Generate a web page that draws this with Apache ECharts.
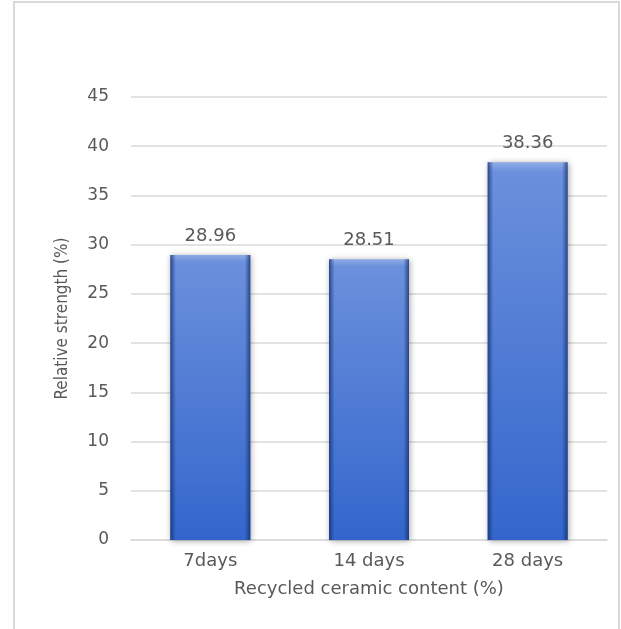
<!DOCTYPE html>
<html>
<head>
<meta charset="utf-8">
<script src="https://cdn.jsdelivr.net/npm/echarts@6/dist/echarts.min.js"></script>
<style>
  html, body { margin: 0; padding: 0; background: #ffffff; }
  #chart { width: 621px; height: 629px; }
</style>
</head>
<body>
<div id="chart"></div>
<script>
// Curing ages and relative strength values
const categories = ['7days', '14 days', '28 days'];
const strengthValues = [28.96, 28.51, 38.36];
const yTicks = { min: 0, max: 45, interval: 5 };

const textGray = '#595959';
const gridGray = '#d9d9d9';

const chart = echarts.init(document.getElementById('chart'), null, { renderer: 'canvas' });

chart.setOption({
  backgroundColor: '#ffffff',
  animation: false,
  graphic: [{
    type: 'rect',
    shape: { x: 14, y: 2, width: 605, height: 640 },
    style: { fill: 'none', stroke: '#d9d9d9', lineWidth: 2 },
    silent: true,
    z: -1
  }],
  grid: { left: 131, right: 14, top: 97, bottom: 89 },
  xAxis: {
    type: 'category',
    data: categories,
    name: 'Recycled ceramic content (%)',
    nameLocation: 'middle',
    nameGap: 40,
    nameTextStyle: { color: textGray, fontFamily: 'DejaVu Sans', fontSize: 18 },
    axisLine: { lineStyle: { color: gridGray, width: 1.5 } },
    axisTick: { show: false },
    axisLabel: { color: textGray, fontFamily: 'DejaVu Sans', fontSize: 18, margin: 12 }
  },
  yAxis: {
    type: 'value',
    min: yTicks.min,
    max: yTicks.max,
    interval: yTicks.interval,
    name: 'Relative strength (%)',
    nameLocation: 'middle',
    nameGap: 60,
    nameRotate: 90,
    nameTextStyle: { color: textGray, fontFamily: '"DejaVu Sans Condensed", "Roboto Condensed", Roboto, sans-serif', fontSize: 17 },
    axisLine: { show: false },
    axisTick: { show: false },
    axisLabel: { color: textGray, fontFamily: 'DejaVu Sans', fontSize: 17, margin: 22 },
    splitLine: { lineStyle: { color: gridGray, width: 1.5 } }
  },
  series: [
    {
      name: 'Relative strength',
      type: 'bar',
      data: strengthValues,
      barWidth: 80,
      itemStyle: {
        color: {
          type: 'linear', x: 0, y: 0, x2: 0, y2: 1,
          colorStops: [
            { offset: 0, color: '#8eabe6' },
            { offset: 0.025, color: '#6b90dc' },
            { offset: 1, color: '#3366cc' }
          ]
        },
        shadowColor: 'rgba(0,0,0,0.35)',
        shadowBlur: 6,
        shadowOffsetX: 1,
        shadowOffsetY: 1
      },
      label: {
        show: true,
        position: 'top',
        distance: 10,
        color: textGray,
        fontFamily: 'DejaVu Sans',
        fontSize: 18,
        formatter: p => p.value.toFixed(2)
      }
    },
    {
      name: 'Bevel',
      type: 'bar',
      data: strengthValues,
      barWidth: 80,
      barGap: '-100%',
      silent: true,
      itemStyle: {
        color: {
          type: 'linear', x: 0, y: 0, x2: 1, y2: 0,
          colorStops: [
            { offset: 0, color: 'rgba(20,45,110,0.75)' },
            { offset: 0.07, color: 'rgba(20,45,110,0)' },
            { offset: 0.93, color: 'rgba(20,45,110,0)' },
            { offset: 1, color: 'rgba(20,45,110,0.75)' }
          ]
        }
      }
    }
  ]
});
</script>
</body>
</html>
